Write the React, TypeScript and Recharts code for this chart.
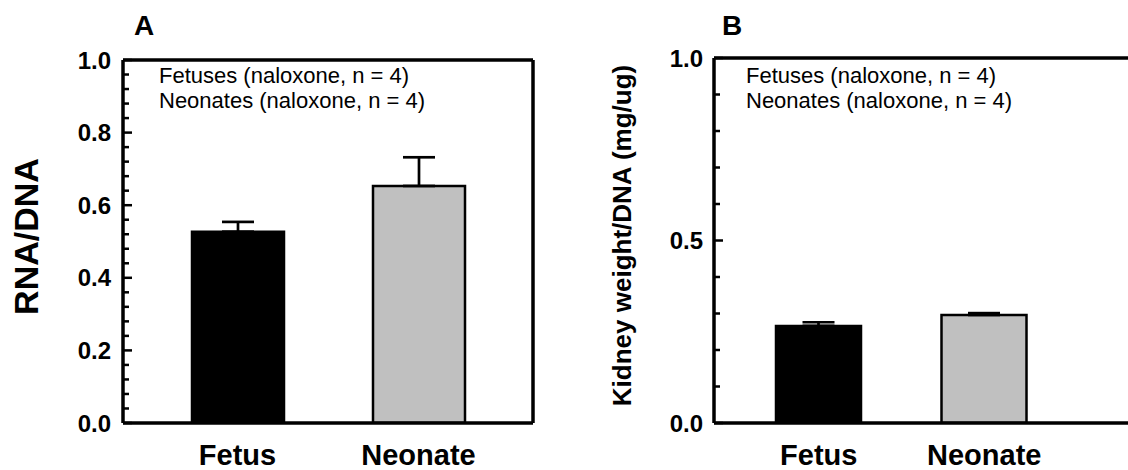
import React from "react";
import { BarChart, Bar, Cell, XAxis, YAxis, ErrorBar } from "recharts";

const CATEGORIES = ["Fetus", "Neonate"];
const RNA_DNA = [0.527, 0.653];
const RNA_DNA_SEM = [0.027, 0.079];
const KIDNEY_DNA = [0.266, 0.296];
const KIDNEY_DNA_SEM = [0.01, 0.005];
const BAR_FILLS = ["#000000", "#c0c0c0"];

const TICKS_A = [0, 0.04, 0.08, 0.12, 0.16, 0.2, 0.24, 0.28, 0.32, 0.36, 0.4, 0.44, 0.48, 0.52, 0.56, 0.6, 0.64, 0.68, 0.72, 0.76, 0.8, 0.84, 0.88, 0.92, 0.96, 1.0];
const MAJOR_A = [0, 0.2, 0.4, 0.6, 0.8, 1.0];
const TICKS_B = [0, 0.1, 0.2, 0.3, 0.4, 0.5, 0.6, 0.7, 0.8, 0.9, 1.0];
const MAJOR_B = [0, 0.5, 1.0];
const LEGEND_LINES = ["Fetuses (naloxone, n = 4)", "Neonates (naloxone, n = 4)"];

const FONT = "Arial, 'Liberation Sans', Helvetica, sans-serif";

const rowsA = CATEGORIES.map((name, i) => ({ name, value: RNA_DNA[i], err: [0, RNA_DNA_SEM[i]] }));
const rowsB = CATEGORIES.map((name, i) => ({ name, value: KIDNEY_DNA[i], err: [0, KIDNEY_DNA_SEM[i]] }));

const makeYTick = (majors: number[], fontSize: number, gap: number) => (props: any) => {
  const { x, y, payload } = props;
  const isMajor = majors.some((m) => Math.abs(m - payload.value) < 1e-6);
  return (
    <g>
      <line x1={x} x2={x + (isMajor ? 9 : 6)} y1={y} y2={y} stroke="#000" strokeWidth={2.5} />
      {isMajor && (
        <text x={x - gap} y={y} textAnchor="end" dominantBaseline="central" fontFamily={FONT} fontWeight="bold" fontSize={fontSize} fill="#000">
          {payload.value.toFixed(1)}
        </text>
      )}
    </g>
  );
};

const XTick = (props: any) => {
  const { x, y, payload } = props;
  return (
    <text x={x} y={y + 42} textAnchor="middle" fontFamily={FONT} fontWeight="bold" fontSize={29} fill="#000">
      {payload.value}
    </text>
  );
};

const yLabel = (text: string, dx: number, fontSize: number) => ({
  content: ({ viewBox }: any) => {
    const cx = viewBox.x + dx;
    const cy = viewBox.y + viewBox.height / 2 - 5;
    return (
      <text x={cx} y={cy} transform={`rotate(-90 ${cx} ${cy})`} textAnchor="middle" dominantBaseline="central" fontFamily={FONT} fontWeight="bold" fontSize={fontSize} fill="#000">
        {text}
      </text>
    );
  },
});

const axisStyle = { stroke: "#000", strokeWidth: 3.5 };

function Panel({ rows, width, plotLeft, plotTop, plotRight, padding, barSize, ticks, majors, tickGap, label, labelDx, labelSize }: any) {
  const margin = { top: plotTop - 1, left: plotLeft - 1, right: width - plotRight - 1, bottom: 470 - 423 - 1 };
  return (
    <BarChart width={width} height={470} data={rows} margin={margin} barCategoryGap={0}>
      <XAxis dataKey="name" height={1} tickSize={0} tickMargin={0} axisLine={axisStyle} tickLine={false} tick={<XTick />} padding={padding} />
      <XAxis xAxisId="top" dataKey="name" orientation="top" height={1} axisLine={axisStyle} tickLine={false} tick={false} />
      <YAxis
        domain={[0, 1]}
        ticks={ticks}
        interval={0}
        width={1}
        tickSize={0}
        tickMargin={0}
        axisLine={axisStyle}
        tickLine={false}
        tick={makeYTick(majors, 24, tickGap)}
        allowDataOverflow
        label={yLabel(label, labelDx, labelSize)}
      />
      <YAxis yAxisId="right" orientation="right" domain={[0, 1]} width={1} axisLine={axisStyle} tickLine={false} tick={false} />
      <Bar dataKey="value" barSize={barSize} isAnimationActive={false} stroke="#000" strokeWidth={2.5}>
        {rows.map((_: any, i: number) => (
          <Cell key={i} fill={BAR_FILLS[i]} />
        ))}
        <ErrorBar dataKey="err" width={16} stroke="#000" strokeWidth={2.7} isAnimationActive={false} />
      </Bar>
    </BarChart>
  );
}

const textStyle: React.CSSProperties = { position: "absolute", fontFamily: FONT, color: "#000", whiteSpace: "nowrap", lineHeight: 1 };

export default function App() {
  return (
    <div style={{ position: "absolute", left: 0, top: 0, width: 1128, height: 470, overflow: "hidden", background: "#fff" }}>
      <div style={{ position: "absolute", left: 0, top: 0 }}>
        <Panel
          rows={rowsA}
          width={560}
          plotLeft={123}
          plotTop={60}
          plotRight={533}
          padding={{ left: 24, right: 24 }}
          barSize={92}
          ticks={TICKS_A}
          majors={MAJOR_A}
          tickGap={12}
          label="RNA/DNA"
          labelDx={-96}
          labelSize={34}
        />
      </div>
      <div style={{ position: "absolute", left: 560, top: 0 }}>
        <Panel
          rows={rowsB}
          width={600}
          plotLeft={154}
          plotTop={58}
          plotRight={580}
          padding={{ left: 22, right: 73 }}
          barSize={85}
          ticks={TICKS_B}
          majors={MAJOR_B}
          tickGap={11}
          label="Kidney weight/DNA (mg/ug)"
          labelDx={-91}
          labelSize={26}
        />
      </div>
      <div style={{ ...textStyle, left: 134, top: 12, fontSize: 28, fontWeight: "bold" }}>A</div>
      <div style={{ ...textStyle, left: 722, top: 12, fontSize: 28, fontWeight: "bold" }}>B</div>
      <div style={{ ...textStyle, left: 159, top: 65, fontSize: 22 }}>
        <div>{LEGEND_LINES[0]}</div>
        <div style={{ marginTop: 3 }}>{LEGEND_LINES[1]}</div>
      </div>
      <div style={{ ...textStyle, left: 746, top: 65, fontSize: 22 }}>
        <div>{LEGEND_LINES[0]}</div>
        <div style={{ marginTop: 3 }}>{LEGEND_LINES[1]}</div>
      </div>
    </div>
  );
}
